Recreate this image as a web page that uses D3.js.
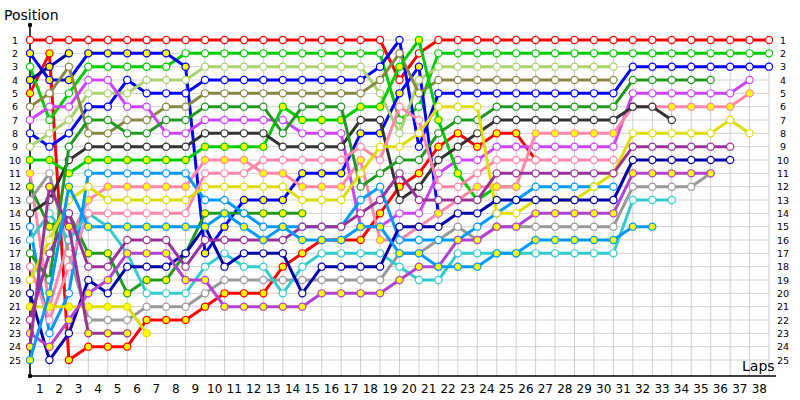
<!DOCTYPE html>
<html><head><meta charset="utf-8">
<script src="https://cdn.jsdelivr.net/npm/d3@7"></script>
<style>body{margin:0;background:#fff}svg{display:block}</style>
</head><body><svg id="c" width="800" height="400"></svg>
<script>
const lapTicks = d3.range(1, 39);
const posTicks = d3.range(1, 26);
const colors = ["#ff0000","#ff0000","#00cc00","#0000ff","#0000ff","#aad36f","#888844","#cc44ff","#00cc00","#ff88aa","#229922","#999999","#333333","#0099ff","#33cccc","#229922","#ff88aa","#dddd00","#0000aa","#dddd00","#993399","#b044d0","#993399","#0099ff","#0000aa"];
const fills  = ["w","y","w","y","w","w","w","w","y","y","y","w","w","w","w","w","w","w","w","y","w","y","y","y","y"];
const s01 = [1,1,1,1,1,1,1,1,1,1,1,1,1,1,1,1,1,1,1,4,2,1,1,1,1,1,1,1,1,1,1,1,1,1,1,1,1,1,1];
const s02 = [5,2,25,24,24,24,22,22,22,21,20,20,20,18,17,16,16,16,14,12,11,9,8,9,8,8,10];
const s03 = [3,7,5,3,3,3,3,3,2,2,2,2,2,2,2,2,2,2,2,7,6,2,2,2,2,2,2,2,2,2,2,2,2,2,2,2,2,2,2];
const s04 = [2,4,4,2,2,2,2,2,3,17,15,13,13,13,11,11,11,8,8,5,3,14];
const s05 = [8,9,8,6,6,4,5,5,5,4,4,4,4,4,4,4,4,4,3,1,9,5,5,5,5,5,5,5,5,5,5,3,3,3,3,3,3,3,3];
const s06 = [9,8,7,5,5,5,4,4,4,3,3,3,3,3,3,3,3,3,5,8,4,3,3,3,3,3,3,3,3,3,3];
const s07 = [6,5,3,8,8,7,7,6,6,5,5,5,5,5,5,5,5,5,4,2,5,4,4,4,4,4,4,4,4,4,4];
const s08 = [7,6,6,4,4,6,6,8,8,7,7,7,7,7,8,8,8,15,15,14,14,11,10,10,9,9,9,9,9,9,9,5,5,5,5,5,5,4];
const s09 = [10,10,11,10,10,10,10,10,10,9,9,9,9,6,7,7,7,6,6,3,1,7,11,13,12,12];
const s10 = [11,21,16,13,12,12,12,12,12,10,10,10,11,11,12,12,12,10,16,16,15,14,13,12,12,12,8,8,8,8,8,6,6,6,6,6,6,5];
const s11 = [12,15,14,17,17,20,19,19,17,14,14,14,14,14,14];
const s12 = [13,11,17,22,22,22,21,21,21,20,19,19,19,19,19,19,19,19,19,17,17,16,15,16,15,15,15,15,15,15,15,12,12,12,12,11];
const s13 = [14,13,10,9,9,9,9,9,9,8,8,8,8,9,9,9,9,7,7,13,12,10,9,8,7,7,7,7,7,7,7,6,6,7];
const s14 = [15,23,20,11,11,11,11,11,11,13,13,14,15,15,15,15,15,13,12,16,16,16,16,15,14,13,12,12,12,12,12];
const s15 = [16,14,16,14,15,17,20,20,20,18,17,18,18,20,18,17,17,17,17,18,19,19,17,17,17,17,17,17,17,17,17,13,13,13];
const s16 = [17,19,9,7,7,8,8,7,7,6,6,6,6,8,6,6,6,12,11,10,10,8,7,7,6,6,6,6,6,6,6,4,4,4,4,4];
const s17 = [18,22,18,14,14,14,14,14,14,11,11,11,10,10,10,10,10,9,10,6,7,12,12,11,10,10,10,10,10,10,10];
const s18 = [19,16,13,12,13,13,13,13,13,12,12,12,12,12,13,13,13,11,9,9,8,6,6,6,14,14,13,13,13,12,11,8,8,8,8,8,7,8];
const s19 = [20,25,23,19,20,18,18,18,17,15,18,17,17,17,20,18,18,18,18,15,15,15,14,14,13,13,13,13,13,13,13,10,10,10,10,10,10];
const s20 = [21,21,21,21,21,21,23];
const s21 = [22,17,14,18,18,16,16,16,18,16,16,16,16,16,15,15,15,14,13,11,13,13,13,13,11,11,11,11,11,11,11,9,9,9,9,9,9];
const s22 = [23,24,22,20,19,17,17,17,19,19,21,21,21,21,21,20,20,20,20,19,18,18,16,16,15,15,14,14,14,14,14,11,11,11,11,11];
const s23 = [24,12,15,23,23,23];
const s24 = [25,20,12,15,15,15,15,15,15,15,14,15,16,15,16,16,16,15,15,17,17,18,18,18,17,17,16,16,16,16,16,15,15];
const s25 = [4,3,2];
const series = [s01,s02,s03,s04,s05,s06,s07,s08,s09,s10,s11,s12,s13,s14,s15,s16,s17,s18,s19,s20,s21,s22,s23,s24,s25];

const svg = d3.select("#c");
const x = d3.scaleLinear().domain([0, 38]).range([30, 769]);
const y = d3.scaleLinear().domain([1, 25]).range([40, 360]);
const font = "'DejaVu Sans', Verdana, sans-serif";

const g = svg.append("g");
g.selectAll("line.v").data(d3.range(0, 39)).join("line")
  .attr("x1", d => x(d)).attr("x2", d => x(d)).attr("y1", y(1)).attr("y2", 376)
  .attr("stroke", "#cfcfcf").attr("stroke-width", 1);
g.selectAll("line.h").data(posTicks).join("line")
  .attr("x1", x(0)).attr("x2", x(38)).attr("y1", d => y(d)).attr("y2", d => y(d))
  .attr("stroke", "#cfcfcf").attr("stroke-width", 1);

svg.append("line").attr("x1", 30).attr("x2", 30).attr("y1", 25).attr("y2", 376).attr("stroke", "#000").attr("stroke-width", 1.5);
svg.append("line").attr("x1", 30).attr("x2", 776).attr("y1", 376).attr("y2", 376).attr("stroke", "#000").attr("stroke-width", 1.5);
svg.append("circle").attr("cx", 30).attr("cy", 25).attr("r", 2.2).attr("fill", "#000");
svg.append("circle").attr("cx", 30).attr("cy", 376).attr("r", 2.2).attr("fill", "#000");

svg.append("text").attr("x", 4).attr("y", 20).text("Position").attr("font-family", font).attr("font-size", 14).attr("fill", "#000");
svg.append("text").attr("x", 742).attr("y", 371).text("Laps").attr("font-family", font).attr("font-size", 14).attr("fill", "#000");

svg.selectAll("text.pl").data(posTicks).join("text").attr("class", "pl")
  .attr("x", 15).attr("y", d => y(d) + 3.5).attr("text-anchor", "middle")
  .attr("font-family", font).attr("font-size", 9.5).text(d => d);
svg.selectAll("text.pr").data(posTicks).join("text").attr("class", "pr")
  .attr("x", 783).attr("y", d => y(d) + 3.5).attr("text-anchor", "middle")
  .attr("font-family", font).attr("font-size", 9.5).text(d => d);
svg.selectAll("text.lap").data(lapTicks).join("text").attr("class", "lap")
  .attr("x", d => x(d - 0.5)).attr("y", 393).attr("text-anchor", "middle")
  .attr("font-family", font).attr("font-size", 12).text(d => d);

const line = d3.line().defined(d => d.p != null).x(d => x(d.lap)).y(d => y(d.p));
series.forEach((s, i) => {
  const pts = s.map((p, lap) => ({lap, p}));
  const gg = svg.append("g");
  gg.append("path").datum(pts).attr("d", line).attr("fill", "none")
    .attr("stroke", colors[i]).attr("stroke-width", 3).attr("stroke-linejoin", "round");
  gg.selectAll("circle").data(pts.filter(d => d.p != null)).join("circle")
    .attr("cx", d => x(d.lap)).attr("cy", d => y(d.p)).attr("r", 3.6)
    .attr("fill", fills[i] === "y" ? "#ffff00" : "#fff")
    .attr("stroke", colors[i]).attr("stroke-width", 1.2);
});
</script></body></html>
